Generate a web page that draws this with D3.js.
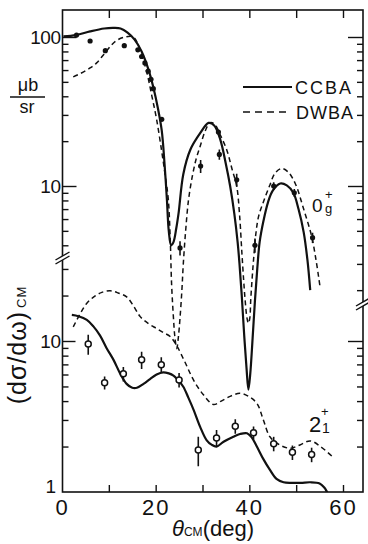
<!DOCTYPE html>
<html>
<head>
<meta charset="utf-8">
<script src="https://cdn.jsdelivr.net/npm/d3@7"></script>
<style>
  body { margin: 0; background: #fff; }
  svg { display: block; }
  text { font-family: "Liberation Sans", Arial, sans-serif; fill: #111; }
</style>
</head>
<body>
<div id="chart"></div>
<script>
// ---- data (angle in deg, cross section in ub/sr) ----

// 0g+ measured points (filled)
const g0Angle = [3.1, 6.0, 9.25, 13.3, 16.2, 17.0, 17.7, 18.4, 19.0, 19.5, 21.3, 25.2, 29.6, 33.4, 33.6, 37.3, 41.2, 45.2, 49.6, 53.5];
const g0Value = [103, 94, 81, 87.5, 82, 74, 67, 59, 52, 45, 28, 3.84, 13.6, 23, 16.3, 11, 4.0, 10, 9.0, 4.5];
const g0Err   = [0, 0, 0, 0, 0, 0, 0, 0, 0, 0, 0, 0.11, 0.10, 0, 0.08, 0.10, 0.11, 0.06, 0.06, 0.08];

// 2_1+ measured points (open)
const ex2Angle = [5.6, 9.1, 13.1, 17.0, 21.2, 25.0, 29.1, 33.0, 37.0, 40.9, 45.2, 49.2, 53.3];
const ex2Value = [9.55, 5.3, 6.07, 7.5, 6.97, 5.52, 1.9, 2.28, 2.73, 2.47, 2.09, 1.83, 1.77];
const ex2Err   = [0.15, 0.10, 0.11, 0.13, 0.12, 0.11, 0.22, 0.13, 0.11, 0.10, 0.11, 0.11, 0.11];

// calculations, 0g+
const ccba0 = [[0.3,101],[3,103],[6,109],[9,114],[11,115],[12.5,114],[14,107],[15.5,96],[17,80],[18.5,60],
  [19.5,46],[20.5,33],[21.3,23.5],[21.9,14],[22.4,8.1],[22.8,5],[23.3,4.0],[23.8,4.2],[24.4,5.2],[24.9,6.6],
  [25.9,12],[27.4,17.5],[29.5,22.6],[31.3,26.5],[32.5,25.5],[33.8,20.5],[35,14],[35.9,10],[36.8,6.5],[37.5,4.2],
  [37.9,3.0],[38.4,1.8],[38.9,1.0],[39.4,0.6],[39.8,0.43],[40.2,0.55],[40.7,0.95],[41.2,1.7],[41.7,2.8],[42.2,4.2],
  [43,5.8],[44,7.8],[45,9.3],[46.6,10.4],[48,10.1],[49.4,9.0],[50.5,7.0],[51.6,4.9],[52.4,3.2],[53,2.0]];
const dwba0 = [[2.4,54],[4,57],[6,62],[7.4,67],[9,77],[10.5,88],[11.7,95],[13.5,100],[15.2,100],[16.5,85],
  [18.1,58],[19.2,40],[20.2,28],[21.3,17],[22,12],[22.7,8.1],[23.1,4.5],[23.4,2.2],[23.8,1.3],[24.1,0.97],
  [24.5,0.81],[24.85,0.97],[25.2,1.3],[25.6,2.0],[25.9,3.0],[26.4,5],[27,8],[27.8,11.5],[28.6,15],[29.5,18.5],
  [30.6,23.5],[31.6,26.6],[32.6,26],[33.8,22],[35.2,17.4],[36.3,13],[37.3,10],[37.9,6.5],[38.4,3.6],[38.8,2.3],
  [39.1,1.72],[39.5,1.3],[39.8,1.2],[40.1,1.3],[40.3,1.72],[40.6,2.4],[40.9,3.2],[41.4,4.8],[42,6.3],[43,7.8],
  [44.3,10],[45.5,12.2],[46.9,13.1],[48.3,12.4],[49.8,10.4],[51.6,7.0],[53.3,4.6],[54.3,3.1],[55.1,2.1]];

// calculations, 2_1+
const ccba2 = [[2.1,14.9],[3.5,14.6],[5.3,13.8],[6.7,12.5],[8.1,10.9],[9.5,9.0],[11,7.5],[12.4,6.1],[13.8,5.2],
  [15,4.9],[16,4.9],[17.4,5.2],[18.8,5.6],[20.2,6.0],[21.6,6.2],[22.8,6.1],[23.8,5.9],[24.8,5.5],[25.9,4.98],
  [27,4.2],[28.1,3.5],[29.5,2.7],[30.9,2.2],[32,2.05],[33,2.0],[34.5,2.15],[36.6,2.32],[38,2.42],[39.5,2.45],
  [40.5,2.3],[41.6,2.0],[43,1.65],[44.4,1.4],[45.8,1.22],[47.3,1.16],[49,1.15],[51,1.15],[53,1.16],[55,1.14],
  [56,1.07],[56.6,1.0],[57.2,0.92]];
const dwba2 = [[2.4,12.4],[3.8,15],[5.3,17.8],[7,19.8],[8.5,21],[10.3,21.5],[12,20.8],[13.8,19.6],[15.3,17],
  [16.7,14.5],[18.5,13],[20.2,12.1],[21.6,11.4],[23.1,10.7],[24.5,9.3],[26.3,7.2],[28.1,5.5],[30.2,4.4],
  [32.3,3.8],[34,4.0],[35.9,4.3],[38,4.5],[39.8,4.3],[41.6,3.87],[43,3.0],[44.4,2.32],[46.5,2.05],[48.7,1.95],
  [50.8,2.05],[53,2.18],[55.2,2.0],[57.6,1.73]];

const xTickLabels = [0, 20, 40, 60];
const xTicks = [10, 20, 30, 40, 50, 60];
const upperLeftTicks = [100, 90, 80, 70, 60, 50, 40, 30, 20, 10, 9, 8, 7, 6, 5, 4];
const upperRightTicks = [100, 90, 80, 70, 60, 50, 40, 30, 20, 10, 9, 8, 7, 6, 5, 4, 3, 2];
const lowerLeftTicks = [30, 20, 10, 9, 8, 7, 6, 5, 4, 3, 2];
const lowerRightTicks = [10, 9, 8, 7, 6, 5, 4, 3, 2];
const majorTicks = [100, 10, 1];

// ---- layout ----
const W = 368, H = 544;
const L = 62.5, R = 363, T = 10, B = 492;
const breakLeft = 257, breakRight = 303;

const svg = d3.select('#chart').append('svg').attr('width', W).attr('height', H);

const x = d3.scaleLinear().domain([0, 60]).range([62, 343]);
const yTop = d3.scaleLog().domain([100, 10]).range([37, 186]);
const yBot = d3.scaleLog().domain([10, 1]).range([341, 492]);

svg.append('clipPath').attr('id', 'frame')
  .append('rect').attr('x', L).attr('y', T).attr('width', R - L).attr('height', B - T);

// ---- axes ----
function styleAxis(g, sizeFn) {
  g.select('.domain').remove();
  g.selectAll('.tick line').attr('stroke', '#111').attr('stroke-width', 1.4);
  if (sizeFn) g.selectAll('.tick line').attr('x2', sizeFn);
}

svg.append('g').attr('transform', `translate(${L},0)`)
  .call(d3.axisRight(yTop).tickValues(upperLeftTicks).tickSize(6).tickFormat(''))
  .call(g => styleAxis(g, d => majorTicks.includes(d) ? 14 : 6));
svg.append('g').attr('transform', `translate(${L},0)`)
  .call(d3.axisRight(yBot).tickValues(lowerLeftTicks).tickSize(6).tickFormat(''))
  .call(g => styleAxis(g, d => majorTicks.includes(d) ? 13 : 6));
svg.append('g').attr('transform', `translate(${R},0)`)
  .call(d3.axisLeft(yTop).tickValues(upperRightTicks).tickSize(6).tickFormat(''))
  .call(g => styleAxis(g, d => majorTicks.includes(d) ? -15 : -6));
svg.append('g').attr('transform', `translate(${R},0)`)
  .call(d3.axisLeft(yBot).tickValues(lowerRightTicks).tickSize(6).tickFormat(''))
  .call(g => styleAxis(g, d => majorTicks.includes(d) ? -15 : -6));

svg.append('g').attr('transform', `translate(0,${B})`)
  .call(d3.axisTop(x).tickValues(xTicks).tickSize(7).tickFormat(''))
  .call(g => styleAxis(g));
svg.append('g').attr('transform', `translate(0,${T})`)
  .call(d3.axisBottom(x).tickValues(xTicks).tickSize(8).tickFormat(''))
  .call(g => styleAxis(g));

// frame
svg.append('rect')
  .attr('x', L).attr('y', T).attr('width', R - L).attr('height', B - T)
  .attr('fill', 'none').attr('stroke', '#111').attr('stroke-width', 1.6);

// axis breaks
function axisBreak(cx, cy) {
  const g = svg.append('g').attr('transform', `translate(${cx},${cy})`);
  g.append('polygon').attr('points', '-7,3 7,-5 7,-1 -7,7').attr('fill', '#fff');
  g.append('line').attr('x1', -7).attr('y1', 3).attr('x2', 7).attr('y2', -5)
    .attr('stroke', '#111').attr('stroke-width', 1.4);
  g.append('line').attr('x1', -7).attr('y1', 7).attr('x2', 7).attr('y2', -1)
    .attr('stroke', '#111').attr('stroke-width', 1.4);
}
axisBreak(L, breakLeft);
axisBreak(R, breakRight);

// tick labels
svg.append('g').attr('transform', `translate(${L},0)`)
  .call(d3.axisLeft(yTop).tickValues([100, 10]).tickSize(0).tickPadding(2).tickFormat(d3.format('d')))
  .call(g => g.select('.domain').remove())
  .selectAll('text').style('font-size', '19px').style('letter-spacing', '-0.5px');
svg.append('g').attr('transform', `translate(${L},0)`)
  .call(d3.axisLeft(yBot).tickValues([10, 1]).tickSize(0).tickPadding(2).tickFormat(d3.format('d')))
  .call(g => g.select('.domain').remove())
  .selectAll('text').style('font-size', '19px').style('letter-spacing', '-0.5px')
  .attr('transform', d => d === 1 ? 'translate(-5,-6)' : null);
svg.append('g').attr('transform', `translate(0,${B})`)
  .call(d3.axisBottom(x).tickValues(xTickLabels).tickSize(0).tickPadding(7).tickFormat(d3.format('d')))
  .call(g => g.select('.domain').remove())
  .selectAll('text').style('font-size', '22px').style('letter-spacing', '2px')
  .attr('fill', '#111');

// ---- curves ----
const plot = svg.append('g').attr('clip-path', 'url(#frame)');
const lineTop = d3.line().x(d => x(d[0])).y(d => yTop(d[1])).curve(d3.curveCatmullRom.alpha(0.5));
const lineBot = d3.line().x(d => x(d[0])).y(d => yBot(d[1])).curve(d3.curveCatmullRom.alpha(0.5));

plot.append('path').attr('d', lineTop(dwba0))
  .attr('fill', 'none').attr('stroke', '#111').attr('stroke-width', 1.5).attr('stroke-dasharray', '5,3.5');
plot.append('path').attr('d', lineBot(dwba2))
  .attr('fill', 'none').attr('stroke', '#111').attr('stroke-width', 1.5).attr('stroke-dasharray', '5,3.5');
plot.append('path').attr('d', lineTop(ccba0))
  .attr('fill', 'none').attr('stroke', '#111').attr('stroke-width', 2.2);
plot.append('path').attr('d', lineBot(ccba2))
  .attr('fill', 'none').attr('stroke', '#111').attr('stroke-width', 2.2);

// ---- measured points ----
const g0 = g0Angle.map((a, i) => ({ a, v: g0Value[i], e: g0Err[i] }));
const ex2 = ex2Angle.map((a, i) => ({ a, v: ex2Value[i], e: ex2Err[i] }));

plot.selectAll('.bar0').data(g0.filter(d => d.e > 0)).join('line')
  .attr('x1', d => x(d.a)).attr('x2', d => x(d.a))
  .attr('y1', d => yTop(d.v * (1 + d.e))).attr('y2', d => yTop(d.v * (1 - d.e)))
  .attr('stroke', '#111').attr('stroke-width', 1.6);
plot.selectAll('.pt0').data(g0).join('circle')
  .attr('cx', d => x(d.a)).attr('cy', d => yTop(d.v)).attr('r', 2.6).attr('fill', '#111');

plot.selectAll('.bar2').data(ex2).join('line')
  .attr('x1', d => x(d.a)).attr('x2', d => x(d.a))
  .attr('y1', d => yBot(d.v * (1 + d.e))).attr('y2', d => yBot(d.v * (1 - d.e)))
  .attr('stroke', '#111').attr('stroke-width', 1.6);
plot.selectAll('.pt2').data(ex2).join('circle')
  .attr('cx', d => x(d.a)).attr('cy', d => yBot(d.v)).attr('r', 3)
  .attr('fill', '#fff').attr('stroke', '#111').attr('stroke-width', 1.5);

// ---- legend ----
svg.append('line').attr('x1', 243).attr('x2', 292).attr('y1', 87).attr('y2', 87)
  .attr('stroke', '#111').attr('stroke-width', 1.8);
svg.append('text').attr('x', 295).attr('y', 93.5).text('CCBA')
  .style('font-size', '18px').style('letter-spacing', '2px');
svg.append('line').attr('x1', 243).attr('x2', 291).attr('y1', 112).attr('y2', 112)
  .attr('stroke', '#111').attr('stroke-width', 1.5).attr('stroke-dasharray', '7,5');
svg.append('text').attr('x', 296).attr('y', 118.5).text('DWBA')
  .style('font-size', '18px').style('letter-spacing', '1px');

// ---- state labels ----
const lab0 = svg.append('text').style('font-size', '19px');
lab0.append('tspan').attr('x', 312).attr('y', 212).text('0');
lab0.append('tspan').attr('x', 325).attr('y', 213).style('font-size', '13px').text('g');
lab0.append('tspan').attr('x', 325).attr('y', 199).style('font-size', '13px').text('+');

const lab2 = svg.append('text').style('font-size', '22px');
lab2.append('tspan').attr('x', 309).attr('y', 432).text('2');
lab2.append('tspan').attr('x', 322).attr('y', 433).style('font-size', '14px').text('1');
lab2.append('tspan').attr('x', 321).attr('y', 416).style('font-size', '13px').text('+');

// ---- axis titles ----
const unit = svg.append('g');
unit.append('text').attr('x', 28).attr('y', 91).attr('text-anchor', 'middle')
  .style('font-size', '18px').text('μb');
unit.append('line').attr('x1', 10).attr('x2', 45).attr('y1', 97).attr('y2', 97)
  .attr('stroke', '#111').attr('stroke-width', 1.4);
unit.append('text').attr('x', 27).attr('y', 113).attr('text-anchor', 'middle')
  .style('font-size', '18px').text('sr');

const yTitle = svg.append('text')
  .attr('transform', 'translate(26,345) rotate(-90)').attr('text-anchor', 'middle')
  .style('font-size', '25px').style('letter-spacing', '1px');
yTitle.append('tspan').text('(dσ/dω)');
yTitle.append('tspan').attr('dx', 3).style('font-size', '13px').text('CM');

const xTitle = svg.append('text')
  .attr('x', 213).attr('y', 536).attr('text-anchor', 'middle')
  .style('font-size', '22px');
xTitle.append('tspan').style('font-style', 'italic').text('θ');
xTitle.append('tspan').style('font-size', '12px').text('CM');
xTitle.append('tspan').text('(deg)');
</script>
</body>
</html>
